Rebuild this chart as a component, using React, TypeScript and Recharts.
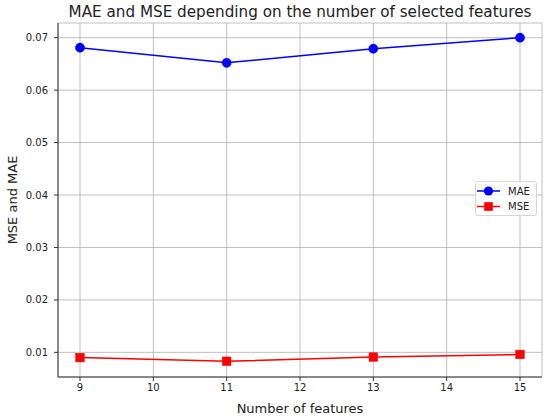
import React from 'react';
import {
  LineChart,
  Line,
  XAxis,
  YAxis,
  CartesianGrid,
  Legend,
} from 'recharts';

const features = [9, 11, 13, 15];
const maeValues = [0.0681, 0.0652, 0.0679, 0.07];
const mseValues = [0.009, 0.0083, 0.0091, 0.0096];
const xTicks = [9, 10, 11, 12, 13, 14, 15];
const yTicks = [0.01, 0.02, 0.03, 0.04, 0.05, 0.06, 0.07];

const FONT = '"DejaVu Sans", sans-serif';
const BLUE = '#0000ff';
const RED = '#ff0000';

const data = features.map((f, i) => ({ x: f, mae: maeValues[i], mse: mseValues[i] }));

const CircleDot = (props: any) => {
  const { cx, cy } = props;
  if (cx == null || cy == null) return null;
  return <circle cx={cx} cy={cy} r={4.6} fill={BLUE} stroke={BLUE} strokeWidth={0.5} />;
};

const SquareDot = (props: any) => {
  const { cx, cy } = props;
  if (cx == null || cy == null) return null;
  return <rect x={cx - 4.3} y={cy - 4.3} width={8.6} height={8.6} fill={RED} stroke={RED} strokeWidth={0.5} />;
};

const LegendBox = () => (
  <svg width={63} height={36} style={{ display: 'block' }}>
    <rect x={0.5} y={0.5} width={61} height={34} rx={2} fill="#fff" fillOpacity={0.8} stroke="#d6d6d6" />
    <line x1={2} y1={10} x2={25} y2={10} stroke={BLUE} strokeWidth={1.5} />
    <circle cx={13.5} cy={10} r={4.6} fill={BLUE} />
    <text x={33} y={13.6} fontFamily={FONT} fontSize={10} fill="#222">MAE</text>
    <line x1={2} y1={25.5} x2={25} y2={25.5} stroke={RED} strokeWidth={1.5} />
    <rect x={9.2} y={21.2} width={8.6} height={8.6} fill={RED} />
    <text x={33} y={29.1} fontFamily={FONT} fontSize={10} fill="#222">MSE</text>
  </svg>
);

export default function App() {
  const tickStyle = { fontFamily: FONT, fontSize: 10, fill: '#222' };
  return (
    <div style={{ position: 'absolute', left: 0, top: 0, width: 550, height: 417, background: '#fff' }}>
      <LineChart
        width={550}
        height={417}
        data={data}
        margin={{ top: 23, right: 8, bottom: 0, left: 0 }}
      >
        <CartesianGrid xAxisId="bottom" yAxisId="left" stroke="#b0b0b0" strokeWidth={0.8} />
        <XAxis
          xAxisId="bottom"
          dataKey="x"
          type="number"
          domain={[8.7, 15.3]}
          ticks={xTicks}
          height={40}
          tickSize={4}
          tickMargin={3}
          tick={tickStyle}
          stroke="#333"
          tickLine={{ stroke: '#333' }}
          axisLine={{ stroke: '#333' }}
          allowDataOverflow
        />
        <XAxis
          xAxisId="top"
          orientation="top"
          dataKey="x"
          type="number"
          domain={[8.7, 15.3]}
          height={0}
          tick={false}
          tickLine={false}
          axisLine={{ stroke: '#333' }}
        />
        <YAxis
          yAxisId="left"
          type="number"
          domain={[0.0053, 0.0728]}
          ticks={yTicks}
          width={58}
          tickSize={4}
          tickMargin={6}
          tick={tickStyle}
          tickFormatter={(v: number) => v.toFixed(2)}
          tickLine={{ stroke: '#333' }}
          axisLine={{ stroke: '#333' }}
          allowDataOverflow
        />
        <YAxis
          yAxisId="right"
          orientation="right"
          type="number"
          domain={[0.0053, 0.0728]}
          width={0}
          tick={false}
          tickLine={false}
          axisLine={{ stroke: '#333' }}
        />
        <Line
          xAxisId="bottom"
          yAxisId="left"
          type="linear"
          dataKey="mae"
          name="MAE"
          stroke={BLUE}
          strokeWidth={1.5}
          dot={<CircleDot />}
          activeDot={false}
          isAnimationActive={false}
        />
        <Line
          xAxisId="bottom"
          yAxisId="left"
          type="linear"
          dataKey="mse"
          name="MSE"
          stroke={RED}
          strokeWidth={1.5}
          dot={<SquareDot />}
          activeDot={false}
          isAnimationActive={false}
        />
        <Legend
          layout="vertical"
          align="center"
          verticalAlign="middle"
          content={() => <LegendBox />}
          wrapperStyle={{ position: 'absolute', left: 475, top: 181, width: 63, height: 36 }}
        />
      </LineChart>
      <svg
        width={550}
        height={417}
        style={{ position: 'absolute', left: 0, top: 0, pointerEvents: 'none' }}
      >
        <text x={300} y={17} textAnchor="middle" fontFamily={FONT} fontSize={15.2} fill="#222">
          MAE and MSE depending on the number of selected features
        </text>
        <text x={300} y={413} textAnchor="middle" fontFamily={FONT} fontSize={13} fill="#222">
          Number of features
        </text>
        <text
          x={0}
          y={0}
          transform="translate(17, 200) rotate(-90)"
          textAnchor="middle"
          fontFamily={FONT}
          fontSize={13}
          fill="#222"
        >
          MSE and MAE
        </text>
      </svg>
    </div>
  );
}
